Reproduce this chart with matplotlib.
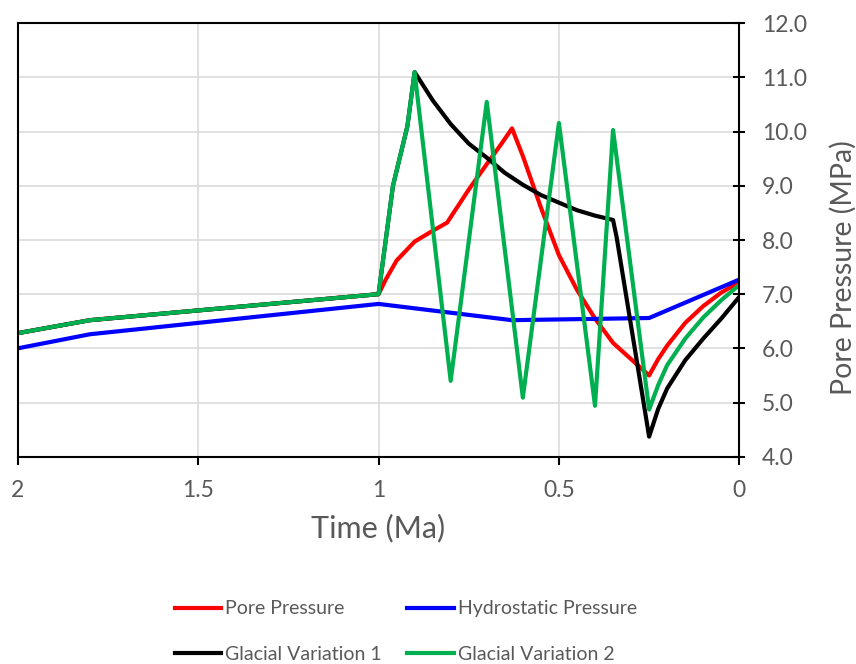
import numpy as np
import matplotlib
matplotlib.use("Agg")
import matplotlib.pyplot as plt

plt.rcParams["font.family"] = ["Lato", "DejaVu Sans"]

# Time (Ma) and pressure (MPa)
t_pore = [2.0, 1.8, 1.5, 1.0, 0.98, 0.95, 0.9, 0.85, 0.81, 0.75, 0.7, 0.66, 0.63,
          0.6, 0.55, 0.5, 0.45, 0.4, 0.35, 0.3, 0.25, 0.225, 0.2, 0.15, 0.1, 0.05, 0.0]
p_pore = [6.28, 6.52, 6.70, 7.0, 7.27, 7.62, 7.97, 8.17, 8.32, 8.93, 9.40, 9.77, 10.06,
          9.55, 8.60, 7.72, 7.08, 6.55, 6.10, 5.80, 5.50, 5.80, 6.05, 6.47, 6.78, 7.03, 7.22]

t_hydro = [2.0, 1.8, 1.0, 0.63, 0.25, 0.0]
p_hydro = [6.0, 6.26, 6.82, 6.52, 6.56, 7.27]

t_glac1 = [2.0, 1.8, 1.5, 1.0, 0.96, 0.92, 0.9, 0.85, 0.8, 0.75, 0.7, 0.65, 0.6, 0.55,
           0.5, 0.45, 0.4, 0.35, 0.34, 0.25, 0.225, 0.2, 0.15, 0.1, 0.05, 0.0]
p_glac1 = [6.28, 6.52, 6.70, 7.0, 9.0, 10.1, 11.1, 10.58, 10.14, 9.78, 9.52, 9.24, 9.02, 8.83,
           8.69, 8.55, 8.45, 8.37, 8.05, 4.37, 4.88, 5.26, 5.78, 6.18, 6.55, 6.95]

t_glac2 = [2.0, 1.8, 1.5, 1.0, 0.96, 0.92, 0.9, 0.8, 0.7, 0.6, 0.5, 0.4, 0.35, 0.25,
           0.225, 0.2, 0.15, 0.1, 0.05, 0.0]
p_glac2 = [6.28, 6.52, 6.70, 7.0, 9.0, 10.1, 11.1, 5.40, 10.55, 5.09, 10.16, 4.94, 10.03, 4.87,
           5.32, 5.69, 6.18, 6.57, 6.89, 7.17]

xticks = [2, 1.5, 1, 0.5, 0]
xtick_labels = ["2", "1.5", "1", "0.5", "0"]
yticks = np.arange(4, 12.01, 1.0)

grey = "#595959"

fig = plt.figure(figsize=(8.56, 6.64), dpi=100)
ax = fig.add_axes([0.0207, 0.3122, 0.843, 0.6527])

lw = 3.0
l1, = ax.plot(t_pore, p_pore, color="#FF0000", lw=lw, label="Pore Pressure", solid_joinstyle="round")
l2, = ax.plot(t_hydro, p_hydro, color="#0000FF", lw=lw, label="Hydrostatic Pressure", solid_joinstyle="round")
l3, = ax.plot(t_glac1, p_glac1, color="#000000", lw=lw, label="Glacial Variation 1", solid_joinstyle="round")
l4, = ax.plot(t_glac2, p_glac2, color="#00B050", lw=lw, label="Glacial Variation 2", solid_joinstyle="round")

ax.set_xlim(2, 0)
ax.set_ylim(4, 12)
ax.set_xticks(xticks)
ax.set_xticklabels(xtick_labels)
ax.set_yticks(yticks)
ax.set_yticklabels(["%.1f" % v for v in yticks])

ax.grid(True, color="#D9D9D9", lw=1.1)
ax.set_axisbelow(True)
for s in ax.spines.values():
    s.set_color("black")
    s.set_linewidth(1.5)

ax.yaxis.tick_right()
ax.yaxis.set_label_position("right")
ax.tick_params(axis="y", direction="inout", length=8.6, width=1.5, pad=12,
               labelsize=16.5, labelcolor=grey, left=False)
ax.tick_params(axis="x", direction="out", length=6, width=1.5, pad=11,
               labelsize=16.5, labelcolor=grey)

ax.set_xlabel("Time (Ma)", fontsize=22, color=grey, labelpad=9)
ax.set_ylabel("Pore Pressure (MPa)", fontsize=20.5, color=grey, rotation=90)
ax.yaxis.set_label_coords(1.126, 0.436)

# row-wise order like the original legend
fig.legend([l1, l3, l2, l4], [l1.get_label(), l3.get_label(), l2.get_label(), l4.get_label()],
           loc="center", bbox_to_anchor=(0.474, 0.049), ncol=2, frameon=False,
           fontsize=14, labelcolor=grey, handlelength=2.4, handletextpad=0.2,
           columnspacing=1.3, labelspacing=1.45)

fig.savefig("out.png", dpi=100)
